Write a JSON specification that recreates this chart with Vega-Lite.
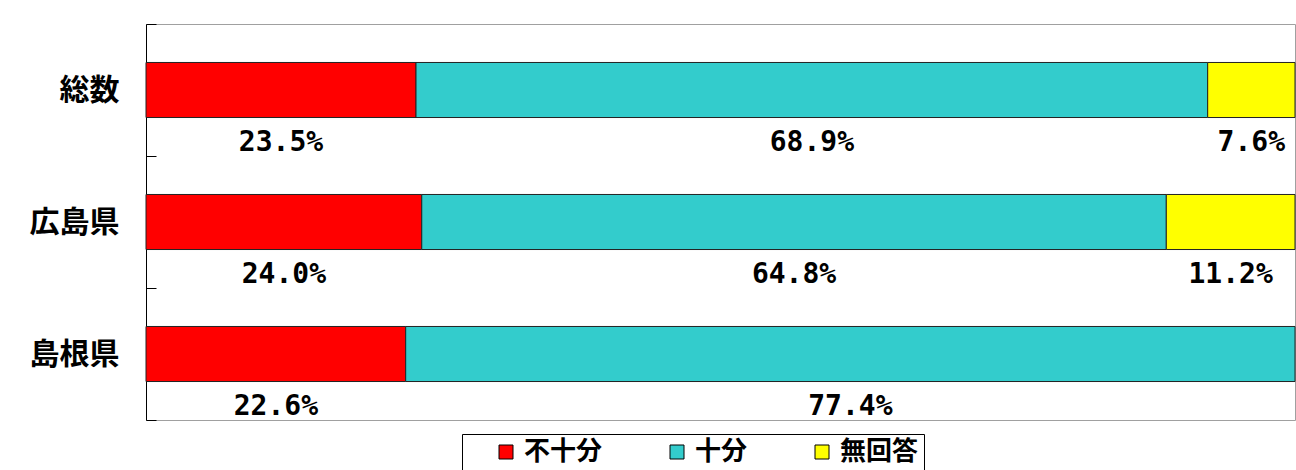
{
  "$schema": "https://vega.github.io/schema/vega-lite/v6.json",
  "width": 1149,
  "height": 396,
  "autosize": {"type": "none"},
  "padding": {"left": 146, "top": 24, "right": 1, "bottom": 50},
  "background": "white",
  "data": {
    "values": [
      {"region": "総数", "answer": "不十分", "k": 1, "share": 0.235},
      {"region": "総数", "answer": "十分", "k": 2, "share": 0.689},
      {"region": "総数", "answer": "無回答", "k": 3, "share": 0.076},
      {"region": "広島県", "answer": "不十分", "k": 1, "share": 0.240},
      {"region": "広島県", "answer": "十分", "k": 2, "share": 0.648},
      {"region": "広島県", "answer": "無回答", "k": 3, "share": 0.112},
      {"region": "島根県", "answer": "不十分", "k": 1, "share": 0.226},
      {"region": "島根県", "answer": "十分", "k": 2, "share": 0.774}
    ]
  },
  "encoding": {
    "y": {
      "field": "region",
      "type": "nominal",
      "sort": ["総数", "広島県", "島根県"],
      "scale": {"paddingInner": 0, "paddingOuter": 0},
      "axis": {
        "title": null,
        "domainColor": "black",
        "domainWidth": 1,
        "tickColor": "black",
        "tickWidth": 1,
        "tickBand": "extent",
        "tickSize": -10,
        "labelPadding": 37,
        "labelFont": "Noto Sans CJK JP",
        "labelFontWeight": "bold",
        "labelFontSize": 30,
        "labelColor": "black"
      }
    }
  },
  "layer": [
    {
      "mark": {"type": "bar", "stroke": "#222222", "strokeWidth": 1, "height": {"band": 0.417}},
      "encoding": {
        "x": {"field": "share", "type": "quantitative", "stack": "zero", "scale": {"domain": [0, 1], "nice": false}, "axis": null},
        "color": {
          "field": "answer",
          "type": "nominal",
          "scale": {"domain": ["不十分", "十分", "無回答"], "range": ["#ff0000", "#33cccc", "#ffff00"]},
          "legend": {
            "title": null,
            "orient": "none",
            "legendX": 316,
            "legendY": 410,
            "direction": "horizontal",
            "symbolType": "square",
            "symbolSize": 196,
            "symbolStrokeColor": "black",
            "symbolStrokeWidth": 1,
            "labelFont": "Noto Sans CJK JP",
            "labelFontWeight": "bold",
            "labelFontSize": 26,
            "labelColor": "black",
            "labelOffset": 5,
            "strokeColor": "black",
            "fillColor": "white",
            "padding": 5,
            "columnPadding": 35,
            "symbolOffset": 26
          }
        },
        "order": {"field": "k", "type": "quantitative"}
      }
    },
    {
      "mark": {"type": "text", "font": "DejaVu Sans Mono", "fontWeight": "bold", "fontSize": 28, "baseline": "alphabetic", "dy": 61, "color": "black"},
      "encoding": {
        "x": {"field": "share", "type": "quantitative", "stack": "zero", "bandPosition": 0.5},
        "text": {"field": "share", "type": "quantitative", "format": ".1%"},
        "order": {"field": "k", "type": "quantitative"}
      }
    }
  ],
  "config": {"view": {"stroke": "#a0a0a0"}}
}
